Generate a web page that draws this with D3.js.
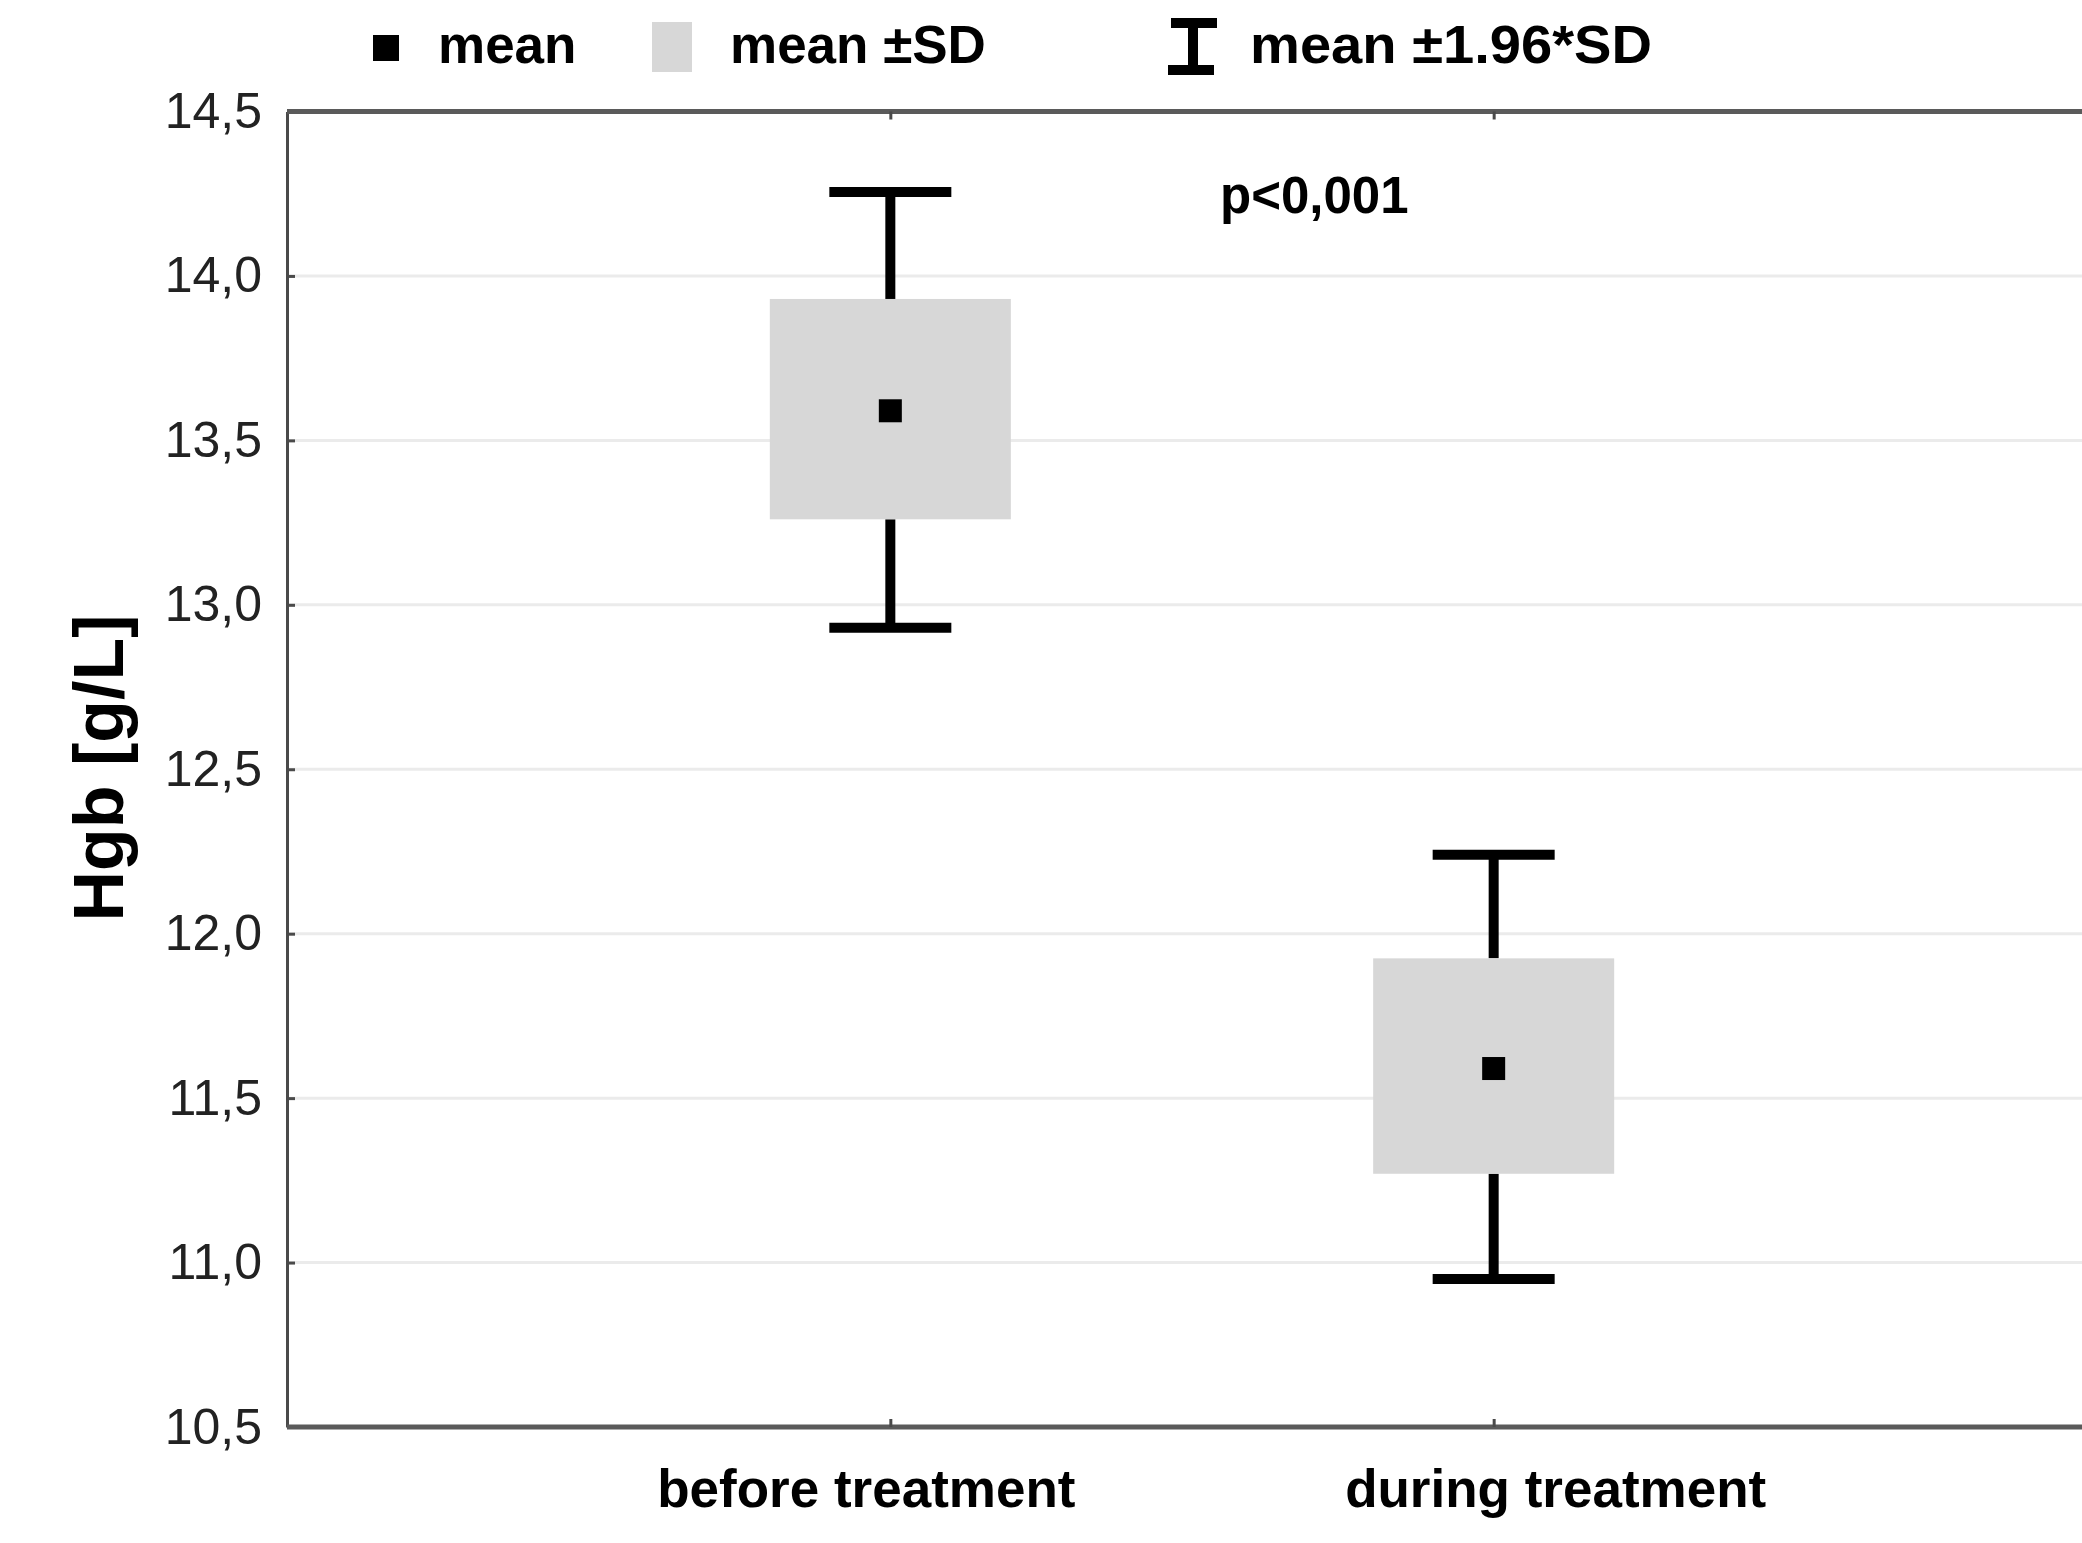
<!DOCTYPE html>
<html>
<head>
<meta charset="utf-8">
<script src="https://cdn.jsdelivr.net/npm/d3@7"></script>
<style>
  html, body { margin: 0; padding: 0; background: #fff; }
  svg { display: block; }
  text { font-family: "Liberation Sans", Arial, sans-serif; }
</style>
</head>
<body>
<svg id="chart" width="2082" height="1543"></svg>
<script>
// ---- data ----
const categories = ["before treatment", "during treatment"];
const means      = [13.59, 11.59];
const sdLow      = [13.26, 11.27];
const sdHigh     = [13.93, 11.925];
const ciLow      = [12.93, 10.95];
const ciHigh     = [14.255, 12.24];
const yTicks     = [10.5, 11.0, 11.5, 12.0, 12.5, 13.0, 13.5, 14.0, 14.5];
const yTitle     = "Hgb [g/L]";
const pText      = "p<0,001";
const legendLabels = ["mean", "mean \u00B1SD", "mean \u00B11.96*SD"];

// ---- layout ----
const W = 2082, H = 1543;
const pLeft = 287, pTop = 111.5, pBottom = 1427, pRight = 2097;
const svg = d3.select("#chart");

const y = d3.scaleLinear().domain([10.5, 14.5]).range([pBottom, pTop]);
const x = d3.scalePoint().domain(categories).range([pLeft, pRight]).padding(1);

const fmt = v => d3.format(".1f")(v).replace(".", ",");

// gridlines
svg.append("g").selectAll("line")
  .data(yTicks.filter(t => t > 10.5 && t < 14.5))
  .join("line")
  .attr("x1", pLeft).attr("x2", W + 20)
  .attr("y1", d => y(d)).attr("y2", d => y(d))
  .attr("stroke", "#ebebeb").attr("stroke-width", 3);

// left axis
const gy = svg.append("g").attr("transform", `translate(${pLeft},0)`)
  .call(d3.axisLeft(y).tickValues(yTicks).tickFormat(fmt).tickSize(-8).tickSizeOuter(0).tickPadding(25));
gy.select(".domain").attr("stroke", "#4a4a4a").attr("stroke-width", 3);
gy.selectAll(".tick line").attr("stroke", "#4a4a4a").attr("stroke-width", 3);
gy.selectAll(".tick text").attr("font-size", 50).attr("fill", "#222")
  .attr("font-family", "'Liberation Sans', Arial, sans-serif");

// top border with ticks
const gt = svg.append("g").attr("transform", `translate(0,${pTop})`)
  .call(d3.axisTop(x).tickSize(-8).tickSizeOuter(0).tickFormat(""));
gt.select(".domain").attr("d", `M${pLeft},0H${W + 20}`).attr("stroke", "#5a5a5a").attr("stroke-width", 5);
gt.selectAll(".tick line").attr("stroke", "#4a4a4a").attr("stroke-width", 3);

// bottom axis
const gb = svg.append("g").attr("transform", `translate(0,${pBottom})`)
  .call(d3.axisBottom(x).tickSize(-8).tickSizeOuter(0).tickFormat(""));
gb.select(".domain").attr("d", `M${pLeft},0H${W + 20}`).attr("stroke", "#5a5a5a").attr("stroke-width", 5);
gb.selectAll(".tick line").attr("stroke", "#4a4a4a").attr("stroke-width", 3);

// x category labels (slightly off-centre as in the original)
const labelShift = [-24, 62];
svg.append("g").selectAll("text")
  .data(categories)
  .join("text")
  .attr("x", (d, i) => x(d) + labelShift[i])
  .attr("y", 1507)
  .attr("text-anchor", "middle")
  .attr("font-size", 53).attr("font-weight", "bold").attr("fill", "#000")
  .text(d => d);

// y title
svg.append("text")
  .attr("transform", "translate(123,768) rotate(-90)")
  .attr("text-anchor", "middle")
  .attr("font-size", 70).attr("font-weight", "bold").attr("fill", "#000")
  .text(yTitle);

// ---- marks ----
const boxW = 241, capW = 122, meanS = 23;
const gm = svg.append("g");
categories.forEach((c, i) => {
  const cx = x(c);
  gm.append("line").attr("x1", cx).attr("x2", cx)
    .attr("y1", y(ciHigh[i])).attr("y2", y(sdHigh[i]))
    .attr("stroke", "#000").attr("stroke-width", 10);
  gm.append("line").attr("x1", cx).attr("x2", cx)
    .attr("y1", y(sdLow[i])).attr("y2", y(ciLow[i]))
    .attr("stroke", "#000").attr("stroke-width", 10);
  [ciHigh[i], ciLow[i]].forEach(v => {
    gm.append("line").attr("x1", cx - capW / 2).attr("x2", cx + capW / 2)
      .attr("y1", y(v)).attr("y2", y(v))
      .attr("stroke", "#000").attr("stroke-width", 10);
  });
  gm.append("rect")
    .attr("x", cx - boxW / 2).attr("width", boxW)
    .attr("y", y(sdHigh[i])).attr("height", y(sdLow[i]) - y(sdHigh[i]))
    .attr("fill", "#d7d7d7");
  gm.append("rect")
    .attr("x", cx - meanS / 2).attr("y", y(means[i]) - meanS / 2)
    .attr("width", meanS).attr("height", meanS)
    .attr("fill", "#000");
});

// p value
svg.append("text").attr("x", 1220).attr("y", 213)
  .attr("font-size", 51).attr("font-weight", "bold").attr("fill", "#000")
  .text(pText);

// ---- legend ----
const lg = svg.append("g");
lg.append("rect").attr("x", 373).attr("y", 35).attr("width", 26).attr("height", 26).attr("fill", "#000");
lg.append("rect").attr("x", 652).attr("y", 22).attr("width", 40).attr("height", 50).attr("fill", "#d7d7d7");
lg.append("line").attr("x1", 1193).attr("x2", 1193).attr("y1", 23).attr("y2", 70)
  .attr("stroke", "#000").attr("stroke-width", 10);
lg.append("line").attr("x1", 1171).attr("x2", 1217).attr("y1", 23).attr("y2", 23)
  .attr("stroke", "#000").attr("stroke-width", 10);
lg.append("line").attr("x1", 1168).attr("x2", 1214).attr("y1", 70).attr("y2", 70)
  .attr("stroke", "#000").attr("stroke-width", 10);
const legendX = [438, 730, 1250];
const legendLen = [null, null, 402];
lg.selectAll("text.lab").data(legendLabels).join("text")
  .attr("class", "lab")
  .attr("x", (d, i) => legendX[i]).attr("y", 63)
  .attr("font-size", 53).attr("font-weight", "bold").attr("fill", "#000")
  .each(function (d, i) {
    if (legendLen[i]) d3.select(this).attr("textLength", legendLen[i]).attr("lengthAdjust", "spacingAndGlyphs");
  })
  .text(d => d);
</script>
</body>
</html>
